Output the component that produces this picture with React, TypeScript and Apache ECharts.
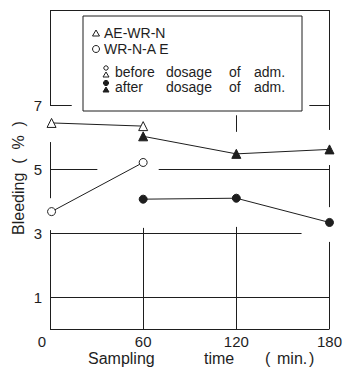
import React, { useEffect, useRef } from "react";
import * as echarts from "echarts";

const xTicks = [0, 60, 120, 180];
const yTickLabels = [1, 3, 5, 7];

// AE-WR-N (triangles)
const triBefore = [[1, 6.46], [60, 6.36]];
const triAfter = [[60, 6.04], [120, 5.49], [180, 5.63]];
// WR-N-AE (circles)
const circBefore = [[1, 3.68], [60, 5.22]];
const circAfter = [[60, 4.07], [120, 4.1], [180, 3.34]];

// frame / grid segments (data coordinates) as seen in the scan
const frameSegments: number[][][] = [
  [[0, 10], [180, 10]],
  [[0, 0], [180, 0]],
  [[0, 7], [14, 7]],
  [[167, 7], [180, 7]],
  [[0, 5], [30.5, 5]],
  [[70, 5], [180, 5]],
  [[0, 3], [162, 3]],
  [[0, 1], [180, 1]],
  [[0, 10], [0, 7]],
  [[0, 5.86], [0, 4.1]],
  [[0, 3.1], [0, 0]],
  [[60, 3.17], [60, 0]],
  [[120, 6.7], [120, 6.18]],
  [[120, 3.2], [120, 0]],
  [[180, 10], [180, 6.24]],
  [[180, 5.14], [180, 3.82]],
  [[180, 2.73], [180, 0]],
];

const INK = "#1e1e1e";
const FONT = "'Liberation Sans', Arial, sans-serif";

export default function App() {
  const ref = useRef<HTMLDivElement>(null);
  useEffect(() => {
    if (!ref.current) return;
    const chart = echarts.init(ref.current, null, { renderer: "svg" });
    const lineStyle = { color: INK, width: 1 };
    const txt = (x: number, y: number, s: string, size = 14) => ({
      type: "text",
      x,
      y,
      z: 12,
      style: { text: s, fill: INK, font: `${size}px ${FONT}`, verticalAlign: "middle" },
    });
    const shape = (o: any) => ({ z: 12, ...o });
    chart.setOption({
      animation: false,
      backgroundColor: "#fff",
      grid: { left: 50, right: 12, top: 10, bottom: 39 },
      xAxis: {
        type: "value",
        min: 0,
        max: 180,
        interval: 60,
        axisLine: { show: false },
        axisTick: { show: false },
        splitLine: { show: false },
        axisLabel: {
          color: INK,
          fontSize: 15,
          fontFamily: FONT,
          margin: 5,
          formatter: (v: number) => (xTicks.includes(v) ? (v === 0 ? "{z|0}" : String(v)) : ""),
          rich: { z: { padding: [0, 16, 0, 0], fontSize: 15, fontFamily: FONT, color: INK } },
        },
      },
      yAxis: {
        type: "value",
        min: 0,
        max: 10,
        interval: 1,
        axisLine: { show: false },
        axisTick: { show: false },
        splitLine: { show: false },
        axisLabel: {
          color: INK,
          fontSize: 15,
          fontFamily: FONT,
          margin: 8,
          formatter: (v: number) => (yTickLabels.includes(v) ? String(v) : ""),
        },
      },
      series: [
        {
          type: "line",
          data: triBefore,
          symbol: "triangle",
          symbolSize: 9,
          itemStyle: { color: "#fff", borderColor: INK, borderWidth: 1 },
          lineStyle,
          markLine: {
            silent: true,
            symbol: "none",
            label: { show: false },
            lineStyle: { color: INK, width: 1, type: "solid" },
            data: frameSegments.map((s) => [{ coord: s[0] }, { coord: s[1] }]),
          },
          z: 3,
        },
        {
          type: "line",
          data: triAfter,
          symbol: "triangle",
          symbolSize: 9,
          itemStyle: { color: INK, borderColor: INK, borderWidth: 1 },
          lineStyle,
          z: 3,
        },
        {
          type: "line",
          data: circBefore,
          symbol: "circle",
          symbolSize: 8,
          itemStyle: { color: "#fff", borderColor: INK, borderWidth: 1 },
          lineStyle,
          z: 3,
        },
        {
          type: "line",
          data: circAfter,
          symbol: "circle",
          symbolSize: 8,
          itemStyle: { color: INK, borderColor: INK, borderWidth: 1 },
          lineStyle,
          z: 3,
        },
      ],
      graphic: [
        {
          type: "rect",
          z: 10,
          shape: { x: 83, y: 16, width: 219, height: 95 },
          style: { fill: "#fff", stroke: INK, lineWidth: 1 },
        },
        shape({ type: "polygon", shape: { points: [[96, 30], [99.5, 36], [92.5, 36]] }, style: { fill: "#fff", stroke: INK, lineWidth: 1 } }),
        shape({ type: "circle", shape: { cx: 96, cy: 49, r: 3.5 }, style: { fill: "#fff", stroke: INK, lineWidth: 1 } }),
        shape({ type: "circle", shape: { cx: 106, cy: 68, r: 2.2 }, style: { fill: "#fff", stroke: INK, lineWidth: 1 } }),
        shape({ type: "polygon", shape: { points: [[106, 72], [109, 77], [103, 77]] }, style: { fill: "#fff", stroke: INK, lineWidth: 1 } }),
        shape({ type: "circle", shape: { cx: 106, cy: 83, r: 2.6 }, style: { fill: INK, stroke: INK, lineWidth: 1 } }),
        shape({ type: "polygon", shape: { points: [[106, 87], [109, 92], [103, 92]] }, style: { fill: INK, stroke: INK, lineWidth: 1 } }),
        txt(104, 33, "AE-WR-N"),
        txt(104, 49, "WR-N-A E"),
        txt(115, 72, "before"),
        txt(166, 72, "dosage"),
        txt(229, 72, "of"),
        txt(254, 72, "adm."),
        txt(115, 87, "after"),
        txt(166, 87, "dosage"),
        txt(229, 87, "of"),
        txt(254, 87, "adm."),
        {
          type: "text",
          x: 18,
          y: 178,
          rotation: Math.PI / 2,
          style: { text: "Bleeding  (  %  )", fill: INK, font: `16px ${FONT}`, align: "center", verticalAlign: "middle" },
        },
        txt(88, 358, "Sampling", 16),
        txt(204, 358, "time", 16),
        txt(265, 358, "(", 16),
        txt(277, 358, "min.", 16),
        txt(309, 358, ")", 16),
      ],
    });
    return () => chart.dispose();
  }, []);
  return <div ref={ref} style={{ width: 345, height: 368, position: "absolute", left: 0, top: 0 }} />;
}
